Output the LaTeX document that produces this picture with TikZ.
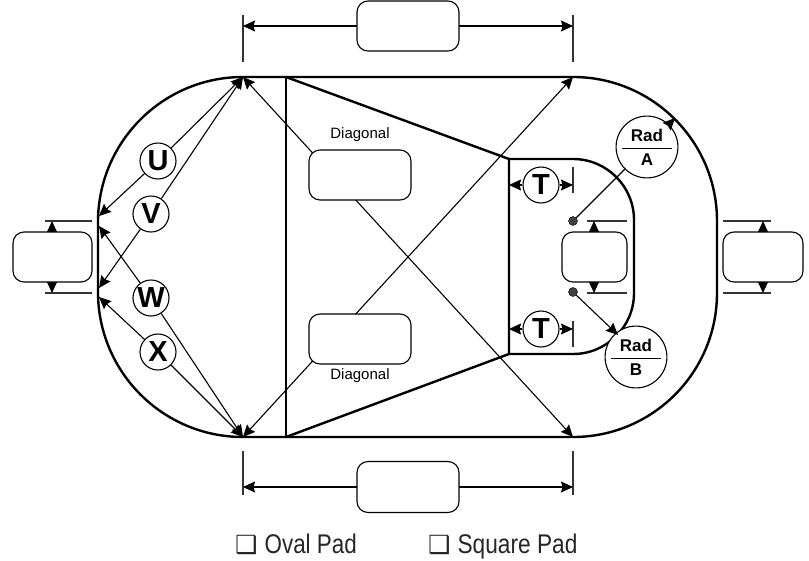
\documentclass[tikz,border=0pt]{standalone}
\usepackage{fontspec}
\setmainfont{Liberation Sans}
\newfontfamily\symfont{DejaVu Sans}
\usetikzlibrary{arrows.meta,positioning}

\begin{document}
\begin{tikzpicture}[
  x=1pt, y=-1pt,
  >={Stealth[length=12pt,width=11pt,inset=1.5pt]},
  outline/.style={line width=2.4pt,line join=round},
  dim/.style={line width=1.1pt,<->},
  lead/.style={line width=1.1pt,->},
  ext/.style={line width=1.1pt,black!80},
  pad/.style={rectangle,rounded corners=11pt,draw,fill=white,line width=1.1pt,inner sep=0pt},
  letter/.style={circle,draw,fill=white,line width=1.1pt,minimum size=36pt,inner sep=0pt,font=\fontsize{29}{29}\selectfont\bfseries},
  radlabel/.style={circle,draw,fill=white,line width=1.1pt,minimum size=58pt,inner sep=0pt,align=center,font=\fontsize{17}{17}\selectfont\bfseries},
  drill/.style={circle,fill=black!75,draw=black,minimum size=9pt,inner sep=0pt},
  note/.style={font=\fontsize{15}{15}\selectfont},
  legend/.style={anchor=base west,inner sep=0pt,text=black!85,font=\fontsize{27}{27}\selectfont}
]
\useasboundingbox (0,0) rectangle (809,560);

% corner points
\coordinate (tl) at (243,77);
\coordinate (tr) at (573,77);
\coordinate (bl) at (243,437);
\coordinate (br) at (573,437);
\coordinate (lu) at (98,222);
\coordinate (ld) at (98,292);
\coordinate (lua) at (99,216);
\coordinate (lub) at (99,226);
\coordinate (lda) at (99,288);
\coordinate (ldb) at (99,297);
\coordinate (radtip) at (675,118);
\coordinate (radend) at (618,335);

% outlines
\draw[outline] (tl) -- (tr) arc[start angle=90,end angle=0,radius=144pt] -- (717,293)
  arc[start angle=0,end angle=-90,radius=144pt] -- (bl)
  arc[start angle=270,end angle=180,radius=145pt] -- (lu)
  arc[start angle=180,end angle=90,radius=145pt] -- cycle;
\draw[outline] (286,77) -- (286,437);
\draw[outline] (286,77) -- (509,159) -- (509,354) -- (286,437);
\draw[outline] (509,159) -- (573,159) arc[start angle=90,end angle=0,radius=61pt] -- (634,293)
  arc[start angle=0,end angle=-90,radius=61pt] -- (509,354);

% extension lines
\draw[ext] (243,15) -- (243,62);
\draw[ext] (573,15) -- (573,62);
\draw[ext] (243,451) -- (243,495);
\draw[ext] (573,451) -- (573,495);
\draw[ext] (45,221) -- (92,221);
\draw[ext] (45,293) -- (92,293);
\draw[ext] (723,221) -- (771,221);
\draw[ext] (723,293) -- (771,293);
\draw[ext] (587,221) -- (627,221);
\draw[ext] (587,293) -- (627,293);
\draw[ext] (573,167) -- (573,193);
\draw[ext] (573,321) -- (573,347);

% pads
\coordinate (dtl) at (243,26);
\coordinate (dtr) at (573,26);
\coordinate (dbl) at (243,487);
\coordinate (dbr) at (573,487);
\draw[dim] (dtl) -- (dtr);
\draw[dim] (dbl) -- (dbr);
\draw[dim] (52,221) -- (52,293);
\draw[dim] (763,221) -- (763,293);
\draw[dim] (594,221) -- (594,293);
\draw[lead,<->] (tl) -- (br);
\draw[lead,<->] (bl) -- (tr);

\node[pad,minimum width=102pt,minimum height=50pt] (padtop) at (408,26) {};
\node[pad,minimum width=102pt,minimum height=51pt] (padbot) at (408,487) {};
\node[pad,minimum width=79pt,minimum height=50pt] (padleft) at (52.5,257) {};
\node[pad,minimum width=80pt,minimum height=50pt] (padright) at (763,257) {};
\node[pad,minimum width=65pt,minimum height=50pt] (padmid) at (594.5,257) {};
\node[pad,minimum width=102pt,minimum height=50pt] (paddiaga) at (360,175) {};
\node[pad,minimum width=102pt,minimum height=50pt] (paddiagb) at (360,339) {};
\node[note] (diaga) at (360,135) {Diagonal};
\node[note] (diagb) at (360,376) {Diagonal};

% letters
\node[letter] (U) at (158,161) {U};
\node[letter] (V) at (151,214) {V};
\node[letter] (W) at (151,298) {W};
\node[letter] (X) at (158,352) {X};
\node[letter] (Ta) at (541,185) {T};
\node[letter] (Tb) at (541,329) {T};
\node[radlabel] (rada) at (647,147) {Rad\\[-9pt]\rule{50pt}{1pt}\\[-1pt]A};
\node[radlabel] (radb) at (636,357) {Rad\\[-9pt]\rule{50pt}{1pt}\\[-1pt]B};
\node[drill] (dota) at (573,221) {};
\node[drill] (dotb) at (573,292) {};

\coordinate (tal) at (509,185);
\coordinate (tar) at (573,185);
\coordinate (tbl) at (509,329);
\coordinate (tbr) at (573,329);

% arrows
\draw[lead] (U) -- (tl);
\draw[lead] (U) -- (lua);
\draw[lead] (V) -- (tl);
\draw[lead] (V) -- (lda);
\draw[lead] (W) -- (lub);
\draw[lead] (W) -- (bl);
\draw[lead] (X) -- (ldb);
\draw[lead] (X) -- (bl);
\draw[lead] (Ta) -- (tal);
\draw[lead] (Ta) -- (tar);
\draw[lead] (Tb) -- (tbl);
\draw[lead] (Tb) -- (tbr);
\draw[lead] (rada) -- (radtip);
\draw[line width=1.1pt] (dota) -- (rada);
\draw[lead] (dotb) -- (radend);

% legend
\node[legend] (oval) at (235,553) {{\symfont\fontsize{25}{25}\selectfont ❑}\hspace{7pt}\scalebox{0.83}[1]{Oval Pad}};
\node[legend] (square) at (428,553) {{\symfont\fontsize{25}{25}\selectfont ❑}\hspace{7pt}\scalebox{0.84}[1]{Square Pad}};
\end{tikzpicture}
\end{document}
